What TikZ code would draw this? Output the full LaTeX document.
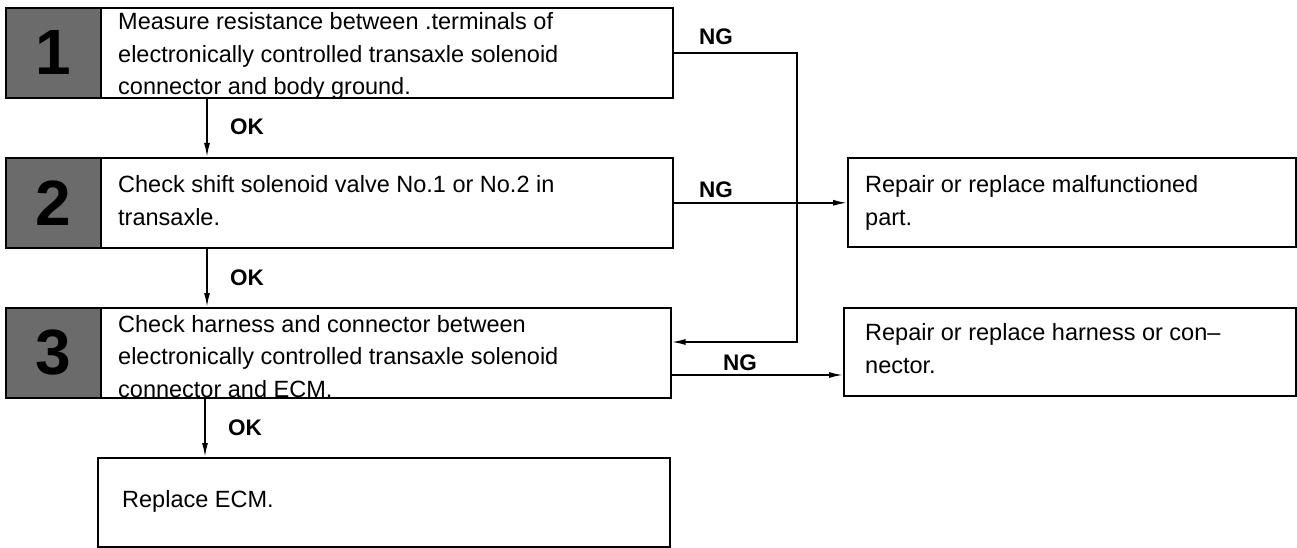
\documentclass[tikz,border=0pt]{standalone}
\usepackage{fontspec}
\setmainfont{Liberation Sans}
\usetikzlibrary{arrows.meta,positioning,calc}

\begin{document}
\begin{tikzpicture}[
x=1pt,y=-1pt,
stepbox/.style={rectangle,draw,line width=1.6pt,anchor=north west,minimum height=90pt,inner sep=0pt},
numbox/.style={rectangle,draw,line width=1.6pt,fill=black!58,anchor=north west,minimum width=95pt,minimum height=90pt,inner sep=0pt,font=\fontsize{64}{64}\selectfont\bfseries},
txt/.style={anchor=base west,align=left,inner sep=0pt,font=\fontsize{23.5}{32.5}\selectfont},
lbl/.style={anchor=base,inner sep=0pt,font=\fontsize{22.5}{22.5}\selectfont\bfseries},
arr/.style={-{Latex[length=14pt,width=6pt]},line width=1.6pt}
]
\useasboundingbox (0,0) rectangle (1297,548);

% check steps down the left (text nodes sit on their last baseline)
\node[stepbox,minimum width=667pt] (s1) at (5,7) {};
\node[numbox] (n1) at (s1.north west) {1};
\node[txt] (t1) at ([xshift=113pt,yshift=-88pt]s1.north west) {Measure resistance between .terminals of\\electronically controlled transaxle solenoid\\connector and body ground.};

\node[stepbox,minimum width=667pt] (s2) at (5,157) {};
\node[numbox] (n2) at (s2.north west) {2};
\node[txt] (t2) at ([xshift=113pt,yshift=-68pt]s2.north west) {Check shift solenoid valve No.1 or No.2 in\\transaxle.};

\node[stepbox,minimum width=665pt] (s3) at (5,307) {};
\node[numbox] (n3) at (s3.north west) {3};
\node[txt] (t3) at ([xshift=113pt,yshift=-90pt]s3.north west) {Check harness and connector between\\electronically controlled transaxle solenoid\\connector and ECM.};

\node[stepbox,minimum width=572pt,minimum height=89pt] (s4) at (97,457) {};
\node[txt] (t4) at ([xshift=25pt,yshift=-50pt]s4.north west) {Replace ECM.};

% repair boxes on the right
\node[stepbox,minimum width=448pt,minimum height=89pt] (r1) at (847,157) {};
\node[txt] (rt1) at ([xshift=18pt,yshift=-68pt]r1.north west) {Repair or replace malfunctioned\\part.};

\node[stepbox,minimum width=452pt,minimum height=88pt] (r2) at (843,307) {};
\node[txt] (rt2) at ([xshift=22pt,yshift=-66pt]r2.north west) {Repair or replace harness or con--\\nector.};

% OK path
\coordinate (okx) at (207,0);
\coordinate (okz) at (205,0);
\draw[arr] (s1.south -| okx) -- (s2.north -| okx);
\draw[arr] (s2.south -| okx) -- (s3.north -| okx);
\draw[arr] (s3.south -| okz) -- (s4.north -| okz);
\node[lbl] (ok1) at (247,135) {OK};
\node[lbl] (ok2) at (247,285) {OK};
\node[lbl] (ok3) at (245,435) {OK};

% NG paths
\coordinate (bus) at (797,342);
\coordinate (ng3) at (0,375);
\draw[arr] (s1.east) -| (bus) -- (s3.east |- bus);
\draw[arr] (s2.east) -- (r1.west |- s2.east);
\draw[arr] (s3.east |- ng3) -- (r2.west |- ng3);
\node[lbl] (ng1) at (716,45) {NG};
\node[lbl] (ng2) at (716,197) {NG};
\node[lbl] (ng4) at (740,370) {NG};
\end{tikzpicture}
\end{document}
